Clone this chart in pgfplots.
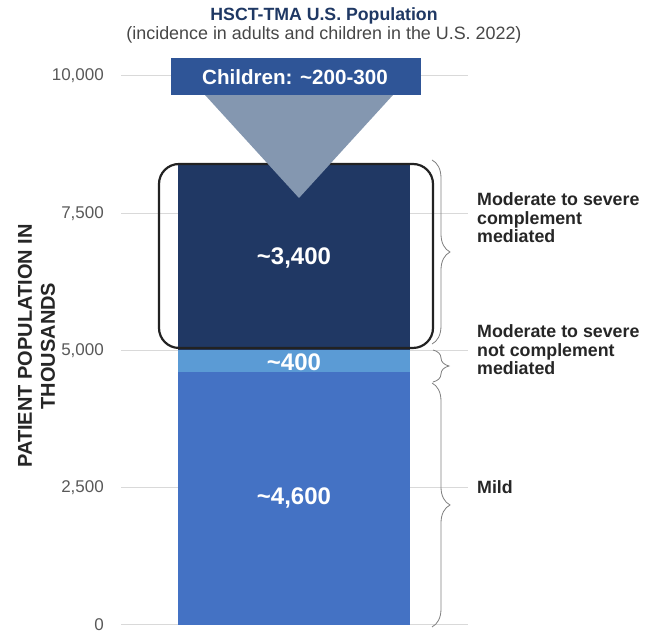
\documentclass[border=0pt]{standalone}
\usepackage{pgfplots}
\pgfplotsset{compat=1.18}
\usepackage{fontspec}
\setmainfont{Liberation Sans}
\usetikzlibrary{decorations.pathreplacing}
\definecolor{mildc}{HTML}{4472C4}
\definecolor{midc}{HTML}{5B9BD5}
\definecolor{darkc}{HTML}{203864}
\definecolor{boxc}{HTML}{2F5597}
\definecolor{tric}{HTML}{8497B0}
\definecolor{titlec}{HTML}{1F3864}
\definecolor{txtc}{HTML}{262626}
\definecolor{tickc}{HTML}{595959}
\definecolor{gridc}{HTML}{D9D9D9}
\definecolor{bracec}{HTML}{7F7F7F}
\pgfplotsset{
  frame/.style={
    at={(121pt,9pt)}, anchor=south west,
    scale only axis, width=347pt, height=549pt,
    xmin=121, xmax=468, ymin=0, ymax=10000,
    enlargelimits=false, clip=false,
    axis line style={draw=none}, tick style={draw=none},
    xtick=\empty,
  }
}
\begin{document}
\begin{tikzpicture}
\path[use as bounding box] (0,0) rectangle (657pt,634pt);
\begin{axis}[
  frame,
  ybar stacked, bar width=232pt,
  ytick={0,2500,5000,7500,10000},
  scaled y ticks=false,
  /pgf/number format/.cd, 1000 sep={,}, assume math mode=true, /pgfplots/.cd,
  yticklabel style={font=\fontsize{17}{17}\selectfont, text=tickc, inner sep=0pt, xshift=-17pt},
  ymajorgrids, grid style={gridc, line width=1pt},
]
\addplot[fill=mildc, draw=none] coordinates {(294,4600)};
\addplot[fill=midc, draw=none] coordinates {(294,400)};
\addplot[fill=darkc, draw=none] coordinates {(294,3400)};
\end{axis}
\begin{axis}[frame, ytick=\empty]
% outline around complement-mediated segment
\draw[rounded corners=20pt, line width=2.2pt, color=txtc!90!black] (axis cs:159,5046) rectangle (axis cs:433,8397);
% children funnel
\fill[tric] (axis cs:205,9654) -- (axis cs:393,9654) -- (axis cs:299,7778) -- cycle;
\fill[boxc] (axis cs:171,9654) rectangle (axis cs:421,10328);
\node[text=white, font=\bfseries\fontsize{20.6}{21}\selectfont] at (axis cs:295,9982) {Children: \textasciitilde200-300};

% value labels
\node[text=white, font=\bfseries\fontsize{24}{24}\selectfont] at (axis cs:294,6685) {\textasciitilde3,400};
\node[text=white, font=\bfseries\fontsize{24}{24}\selectfont] at (axis cs:294,4790) {\textasciitilde400};
\node[text=white, font=\bfseries\fontsize{24}{24}\selectfont] at (axis cs:294,2313) {\textasciitilde4,600};

% braces
\draw[bracec, line width=0.8pt, decorate, decoration={brace, amplitude=18pt, aspect=0.5}] (axis cs:432,8470) -- (axis cs:432,5118);
\draw[bracec, line width=0.8pt, decorate, decoration={brace, amplitude=16pt, aspect=0.5}] (axis cs:433,5009) -- (axis cs:433,4426);
\draw[bracec, line width=0.8pt, decorate, decoration={brace, amplitude=18pt, aspect=0.5}] (axis cs:432,4408) -- (axis cs:432,-36);

% category labels
\node[anchor=west, align=left, inner sep=0pt, text=txtc, font=\bfseries\fontsize{17.8}{18.5}\selectfont] at (axis cs:477,7413) {Moderate to severe\\complement\\mediated};
\node[anchor=west, align=left, inner sep=0pt, text=txtc, font=\bfseries\fontsize{17.8}{18.5}\selectfont] at (axis cs:477,5009) {Moderate to severe\\not complement\\mediated};
\node[anchor=west, align=left, inner sep=0pt, text=txtc, font=\bfseries\fontsize{17.8}{18.5}\selectfont] at (axis cs:477,2514) {Mild};

% y label
\node[rotate=90, align=center, inner sep=0pt, text=txtc, font=\bfseries\fontsize{20}{23}\selectfont] at (axis cs:36.5,5082) {PATIENT POPULATION IN\\THOUSANDS};

% titles
\node[text=titlec, font=\bfseries\fontsize{17.7}{18}\selectfont] at (axis cs:324,11093) {HSCT-TMA U.S. Population};
\node[text=tickc!80!black, font=\fontsize{17.9}{18}\selectfont] at (axis cs:324,10747) {(incidence in adults and children in the U.S. 2022)};
\end{axis}
\end{tikzpicture}
\end{document}
